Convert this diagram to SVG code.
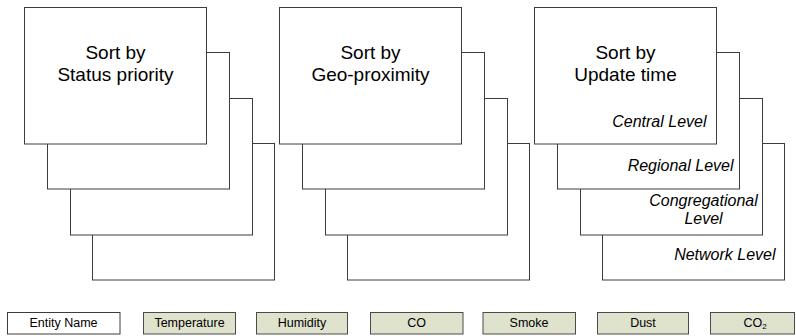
<svg xmlns="http://www.w3.org/2000/svg" width="796" height="336" viewBox="0 0 796 336">
  <style>
    .card { fill: #ffffff; stroke: #3c3c3c; stroke-width: 1; }
    .title { font-family: "Liberation Sans", Arial, sans-serif; font-size: 19px; fill: #000; text-anchor: middle; }
    .lvl { font-family: "Liberation Sans", Arial, sans-serif; font-size: 16px; font-style: italic; fill: #000; }
    .field { fill: #dfe2cd; stroke: #4a4a4a; stroke-width: 1; }
    .field-w { fill: #ffffff; stroke: #3c3c3c; stroke-width: 1; }
    .ftxt { font-family: "Liberation Sans", Arial, sans-serif; font-size: 12.5px; fill: #000; text-anchor: middle; }
  </style>
  <defs>
    <!-- one stack of four cards, back to front -->
    <g id="stack">
      <rect class="card" x="92.5" y="143.5" width="182" height="136.5"/>
      <rect class="card" x="70.5" y="98.5" width="182" height="136.5"/>
      <rect class="card" x="47.5" y="52.5" width="182" height="136.5"/>
      <rect class="card" x="24.5" y="7.5" width="182" height="136.5"/>
    </g>
  </defs>

  <g id="sort-status">
    <use href="#stack"/>
    <text class="title" x="115.5" y="59">Sort by</text>
    <text class="title" x="115.5" y="81">Status priority</text>
  </g>

  <g id="sort-geo">
    <use href="#stack" transform="translate(255,0)"/>
    <text class="title" x="370.5" y="59">Sort by</text>
    <text class="title" x="370.5" y="81">Geo-proximity</text>
  </g>

  <g id="sort-update">
    <use href="#stack" transform="translate(510,0)"/>
    <text class="title" x="625.5" y="59">Sort by</text>
    <text class="title" x="625.5" y="81">Update time</text>
    <text class="lvl" x="706.5" y="126.5" text-anchor="end">Central Level</text>
    <text class="lvl" x="733.5" y="170.5" text-anchor="end">Regional Level</text>
    <text class="lvl" x="703.5" y="206" text-anchor="middle">Congregational</text>
    <text class="lvl" x="703.5" y="223.5" text-anchor="middle">Level</text>
    <text class="lvl" x="775.5" y="259.5" text-anchor="end">Network Level</text>
  </g>

  <!-- record fields -->
  <g id="f-entity">
    <rect class="field-w" x="7.5" y="312.5" width="112.5" height="21.5"/>
    <text class="ftxt" x="63.5" y="327">Entity Name</text>
  </g>
  <g id="f-temperature">
    <rect class="field" x="143.5" y="312.5" width="92" height="21.5"/>
    <text class="ftxt" x="189.5" y="327">Temperature</text>
  </g>
  <g id="f-humidity">
    <rect class="field" x="256.5" y="312.5" width="91" height="21.5"/>
    <text class="ftxt" x="302" y="327">Humidity</text>
  </g>
  <g id="f-co">
    <rect class="field" x="370.5" y="312.5" width="92.5" height="21.5"/>
    <text class="ftxt" x="416.5" y="327">CO</text>
  </g>
  <g id="f-smoke">
    <rect class="field" x="483" y="312.5" width="92.5" height="21.5"/>
    <text class="ftxt" x="529" y="327">Smoke</text>
  </g>
  <g id="f-dust">
    <rect class="field" x="597.5" y="312.5" width="91" height="21.5"/>
    <text class="ftxt" x="643" y="327">Dust</text>
  </g>
  <g id="f-co2">
    <rect class="field" x="710.5" y="312.5" width="84" height="21.5"/>
    <text class="ftxt" x="755" y="327">CO<tspan font-size="8" dy="2">2</tspan></text>
  </g>
</svg>
